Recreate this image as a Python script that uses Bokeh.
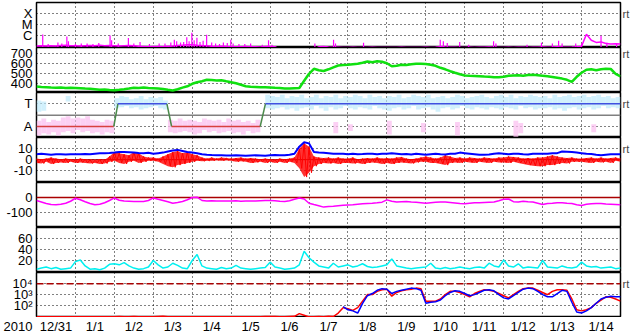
import numpy as np
from bokeh.plotting import figure
from bokeh.layouts import column
from bokeh.models import Range1d, FixedTicker, LinearAxis
from bokeh.core.properties import value
from bokeh.embed import file_html
from bokeh.resources import INLINE

nan = float("nan")

# ---------------- data (3-hourly samples, days since 2009-12-31 00:00) -------------
day_labels = ["12/31", "1/1", "1/2", "1/3", "1/4", "1/5", "1/6", "1/7",
              "1/8", "1/9", "1/10", "1/11", "1/12", "1/13", "1/14"]
year_label = "2010"
t = np.arange(121) * 0.125

# GOES X-ray flux (log10 W/m2)
xray_log = [
    -6.92, -6.90, -6.93, -6.90, -6.92, -6.88, -6.85, -6.90,
    -6.90, -6.92, -6.90, -6.88, -6.90, -6.85, -6.90, -6.88,
    -6.90, -6.92, -6.90, -6.88, -6.90, -6.95, -6.97, -6.99,
    -6.98, -6.97, -6.99, -6.95, -6.92, -6.88, -6.85, -6.82,
    -6.80, -6.85, -6.88, -6.90, -6.95, -6.97, -6.95, -6.98,
    -6.99, -7.00, -7.00, -6.98, -7.00, -7.00, -7.02, -6.98,
    -6.97, -6.99, -7.20, -7.20, -7.20, -7.20, -7.20, -7.20,
    -7.20, -7.20, -7.00, -6.98, -7.02, -7.03, -7.04, -7.05,
    -7.05, -7.04, -7.05, -7.06, -7.05, -7.04, -7.06, -7.05,
    -7.05, -7.06, -7.05, -7.04, -7.05, -7.06, -7.05, -7.05,
    -7.04, -7.05, -7.03, -7.00, -7.02, -7.03, -7.04, -7.05,
    -7.05, -7.04, -7.05, -7.04, -7.03, -7.02, -7.04, -7.05,
    -7.05, -7.04, -7.05, -7.03, -7.04, -7.05, -7.04, -7.03,
    -7.02, -7.03, -7.02, -7.00, -7.02, -7.03, -7.02, -7.00,
    -6.95, -5.85, -6.40, -6.60, -6.55, -6.70, -6.75, -6.72,
    -6.75]
flare_t = [0.16, 0.55, 0.78, 0.82, 1.30, 1.60, 1.89, 1.93, 2.36, 2.66,
           3.15, 3.54, 3.70, 3.86, 3.99, 4.05, 4.12, 4.37, 4.50, 4.80,
           4.99, 5.20, 5.50, 5.96, 7.15, 7.63, 7.68, 8.40, 10.37, 10.45,
           10.55, 10.87, 11.10, 11.74, 11.80, 12.60, 12.97, 13.25, 13.41, 13.50,
           13.85, 14.00, 14.50, 14.65, 14.90,
           0.30, 0.65, 1.00, 1.15, 1.45, 2.10, 2.50, 2.90, 3.30, 3.45,
           3.60, 3.78, 3.92, 4.20, 4.28, 4.60, 4.70, 4.90, 5.05, 5.35,
           5.80, 6.05]
flare_log = [-5.88, -6.60, -6.06, -6.50, -6.70, -6.65, -5.97, -6.40, -6.20, -6.56,
             -6.70, -6.35, -6.60, -6.13, -5.73, -6.40, -6.18, -5.90, -6.60, -6.60,
             -6.35, -6.75, -6.70, -6.40, -6.70, -6.35, -6.70, -6.63, -6.35, -6.50,
             -6.65, -6.56, -6.80, -6.50, -6.70, -6.80, -6.63, -6.70, -6.45, -6.70,
             -6.70, -6.70, -6.00, -6.60, -6.70,
             -6.75, -6.70, -6.75, -6.70, -6.75, -6.70, -6.70, -6.75, -6.70, -6.60,
             -6.50, -6.55, -6.50, -6.55, -6.45, -6.70, -6.75, -6.65, -6.70, -6.75,
             -6.80, -6.80]

# solar wind speed (km/s)
speed = [
    372, 368, 365, 362, 360, 362, 358, 360,
    358, 355, 352, 350, 345, 340, 342, 338,
    336, 340, 345, 352, 360, 358, 362, 358,
    356, 352, 348, 340, 333, 345, 362, 375,
    400, 416, 425, 440, 438, 433, 436, 425,
    416, 405, 390, 376, 370, 368, 366, 365,
    363, 360, 358, 353, 352, 355, 358, 430,
    500, 550, 535, 528, 545, 565, 583, 588,
    590, 595, 600, 610, 623, 615, 625, 620,
    606, 575, 580, 590, 588, 595, 600, 600,
    598, 590, 580, 560, 545, 526, 510, 495,
    483, 480, 478, 476, 472, 470, 466, 465,
    470, 480, 483, 485, 480, 488, 490, 485,
    480, 475, 468, 460, 452, 440, 420, 470,
    510, 540, 545, 535, 545, 550, 548, 500,
    473]

# IMF sector (T = +1, A = -1)
sector_t = [0, 1.985, 2.09, 3.35, 3.47, 5.745, 5.88, 15]
sector_v = [-1, -1, 1, 1, -1, -1, 1, 1]
cyan_hi = [
    1.3, 1.2, nan, nan, nan, nan, 1.7, nan,
    nan, nan, nan, nan, nan, nan, nan, nan,
    1.5, 1.7, 1.6, 1.4, 1.5, 1.7, 1.4, 1.6,
    1.5, 1.6, 1.3, nan, nan, nan, nan, nan,
    nan, nan, nan, nan, nan, nan, nan, nan,
    nan, nan, nan, nan, nan, nan, nan, 1.8,
    1.7, 1.6, 1.8, 1.5, 1.7, 1.6, 1.8, 1.5,
    1.6, 1.8, 1.5, 1.7, 1.6, 1.8, 1.5, 1.7,
    1.6, 1.8, 1.7, 1.5, 1.8, 1.6, 1.7, 1.5,
    1.7, 1.6, 1.8, 1.5, 1.6, 1.8, 1.7, 1.6,
    1.8, 1.5, 1.6, 1.7, 1.5, 1.6, 1.8, 1.7,
    1.5, 1.6, 1.7, 1.8, 1.6, 1.5, 1.7, 1.8,
    1.6, 1.8, 1.5, 1.7, 1.6, 1.8, 1.7, 1.6,
    1.7, 1.5, 1.8, 1.6, 1.7, 1.8, 1.6, 1.7,
    1.8, 1.6, 1.7, 1.8, 1.6, 1.7, 1.5, 1.6]
cyan_lo = [
    0.3, 0.4, nan, nan, nan, nan, 1.2, nan,
    nan, nan, nan, nan, nan, nan, nan, nan,
    0.6, 0.7, 0.8, 0.6, 0.7, 0.5, 0.6, 0.7,
    0.8, 0.6, 0.5, nan, nan, nan, nan, nan,
    nan, nan, nan, nan, nan, nan, nan, nan,
    nan, nan, nan, nan, nan, nan, nan, 0.6,
    0.5, 0.6, 0.7, 0.5, 0.6, 0.4, 0.6, 0.7,
    0.5, 0.8, 0.6, 0.4, 0.7, 0.5, 0.6, 0.8,
    0.6, 0.5, 0.7, 0.6, 0.5, 0.8, 0.6, 0.5,
    0.4, 0.6, 0.7, 0.5, 0.6, 0.8, 0.5, 0.6,
    0.7, 0.5, 0.3, 0.6, 0.7, 0.5, 0.6, 0.8,
    0.6, 0.5, 0.7, 0.6, 0.5, 0.7, 0.6, 0.5,
    0.7, 0.6, 0.5, 0.8, 0.6, 0.7, 0.5, 0.6,
    0.6, 0.7, 0.5, 0.6, 0.4, 0.6, 0.7, 0.5,
    0.6, 0.7, 0.5, 0.6, 0.8, 0.6, 0.7, 0.6]
pink_hi = [
    -0.5, -0.3, -0.6, -0.4, -0.5, -0.2, -0.1, -0.3,
    -0.2, -0.3, -0.1, -0.4, -0.5, -0.6, -0.4, -0.5,
    nan, nan, nan, nan, nan, nan, nan, nan,
    nan, nan, nan, -0.4, -0.5, -0.3, -0.5, -0.4,
    -0.5, -0.6, -0.3, -0.4, -0.5, -0.4, -0.6, -0.3,
    -0.5, -0.4, -0.6, -0.5, -0.7, -0.4, nan, nan,
    nan, nan, nan, nan, nan, nan, nan, nan,
    nan, nan, nan, nan, nan, -0.6, nan, nan,
    -0.8, nan, nan, nan, nan, nan, nan, nan,
    -0.5, nan, nan, nan, nan, nan, nan, -0.7,
    nan, nan, nan, nan, nan, nan, -0.6, nan,
    nan, nan, nan, nan, nan, nan, nan, nan,
    nan, nan, -0.5, -0.7, nan, nan, nan, nan,
    nan, nan, nan, nan, nan, nan, nan, nan,
    nan, nan, -0.8, nan, nan, nan, nan, nan]
pink_lo = [
    -1.8, -1.6, -1.7, -1.5, -1.8, -1.5, -1.4, -1.6,
    -1.3, -1.5, -1.4, -1.6, -1.5, -1.7, -1.5, -1.6,
    nan, nan, nan, nan, nan, nan, nan, nan,
    nan, nan, nan, -1.5, -1.6, -1.5, -1.4, -1.5,
    -1.7, -1.6, -1.3, -1.5, -1.4, -1.6, -1.5, -1.4,
    -1.6, -1.5, -1.7, -1.4, -1.6, -1.5, nan, nan,
    nan, nan, nan, nan, nan, nan, nan, nan,
    nan, nan, nan, nan, nan, -1.6, nan, nan,
    -1.4, nan, nan, nan, nan, nan, nan, nan,
    -1.7, nan, nan, nan, nan, nan, nan, -1.5,
    nan, nan, nan, nan, nan, nan, -1.8, nan,
    nan, nan, nan, nan, nan, nan, nan, nan,
    nan, nan, -1.9, -1.6, nan, nan, nan, nan,
    nan, nan, nan, nan, nan, nan, nan, nan,
    nan, nan, -1.5, nan, nan, nan, nan, nan]

# IMF Bt and Bz range (nT)
bt = [
    5.0, 5.5, 5.0, 4.5, 5.0, 5.0, 4.8, 5.0,
    5.0, 5.0, 5.2, 5.0, 5.5, 5.8, 6.0, 6.2,
    6.5, 7.0, 7.0, 6.8, 6.5, 6.2, 6.0, 6.3,
    5.5, 6.0, 6.5, 7.5, 8.5, 9.0, 8.0, 7.0,
    6.5, 6.0, 5.0, 4.5, 4.2, 4.0, 4.0, 3.8,
    3.8, 4.0, 3.8, 3.5, 3.8, 4.0, 3.8, 3.6,
    4.0, 4.2, 4.0, 4.0, 4.5, 5.5, 12.0, 16.0,
    15.0, 7.0, 6.5, 6.3, 6.0, 5.5, 5.5, 5.5,
    5.0, 5.5, 5.0, 5.2, 5.5, 5.5, 5.0, 5.5,
    5.5, 5.8, 5.5, 5.0, 5.2, 4.8, 5.5, 5.0,
    4.5, 5.0, 5.5, 5.0, 4.8, 5.5, 5.5, 6.5,
    6.0, 5.5, 5.0, 4.5, 4.5, 4.8, 5.5, 5.8,
    5.5, 5.0, 5.5, 5.5, 5.0, 4.8, 5.5, 5.5,
    5.5, 5.5, 5.8, 6.0, 7.5, 7.3, 7.0, 6.5,
    6.0, 5.5, 5.2, 4.5, 4.0, 4.5, 5.0, 5.0,
    5.0]
bz_hi = [
    1.0, 0.5, 1.0, 2.0, 1.0, 0.5, 1.0, 0.5,
    0.0, 1.0, 0.5, 0.0, -0.5, 0.5, 0.0, 3.0,
    7.0, 6.0, 5.0, 4.0, 7.0, 6.0, 3.0, 2.0,
    2.0, 1.0, 3.0, 5.0, 7.0, 8.0, 6.0, 7.0,
    5.0, 4.0, 2.0, 1.0, 2.0, 1.0, 2.0, 1.5,
    1.0, 1.5, 2.0, 1.0, 1.5, 1.0, 0.5, 1.0,
    0.5, 0.0, 1.0, 0.5, 1.0, 2.0, 10.0, 15.0,
    12.0, 3.0, 2.0, 1.5, 2.0, 1.0, 2.0, 1.0,
    1.0, 2.0, 0.5, 1.0, 1.5, 1.0, 2.0, 1.0,
    1.5, 1.0, 2.0, 2.5, 1.0, 0.5, 1.0, 2.0,
    3.0, 2.0, 1.0, 2.0, 4.0, 3.0, 1.5, 2.0,
    1.0, 2.0, 1.5, 1.0, 2.0, 1.5, 1.0, 2.0,
    2.0, 3.0, 2.5, 2.0, 1.0, 1.5, 1.0, 2.0,
    2.0, 3.0, 4.0, 3.0, 2.0, 1.5, 2.0, 1.0,
    1.0, 1.5, 2.0, 1.0, 2.0, 1.0, 1.5, 2.0,
    1.0]
bz_lo = [
    -3.0, -3.5, -2.0, -4.0, -3.0, -2.5, -3.0, -2.0,
    -3.0, -2.5, -3.0, -3.5, -3.0, -4.0, -3.5, -2.0,
    -1.0, -3.0, -4.0, -2.0, -1.0, -3.0, -2.0, -1.0,
    -1.0, -2.0, -4.0, -6.0, -7.0, -5.0, -4.0, -3.0,
    -2.0, -1.0, -1.5, -1.0, -1.0, -0.5, -1.0, -0.5,
    -1.0, -2.0, -1.5, -2.0, -3.0, -2.5, -2.0, -3.0,
    -2.0, -3.0, -2.0, -3.0, -2.0, -3.0, -8.0, -16.0,
    -12.0, -6.0, -4.0, -3.0, -3.5, -3.0, -4.0, -3.0,
    -3.0, -3.5, -3.0, -4.0, -3.0, -2.5, -3.0, -4.0,
    -3.0, -4.0, -3.0, -2.5, -3.0, -3.5, -2.5, -2.0,
    -2.0, -3.0, -3.0, -4.0, -5.0, -3.0, -2.5, -3.0,
    -2.0, -2.5, -3.0, -2.0, -2.5, -3.0, -2.0, -2.5,
    -2.5, -3.0, -2.0, -3.0, -4.0, -5.0, -5.5, -6.0,
    -6.0, -5.0, -5.0, -4.0, -3.0, -3.5, -2.0, -2.0,
    -2.0, -2.5, -3.0, -2.0, -2.5, -2.0, -3.0, -1.0,
    -2.0]

# Dst (nT)
dst = [
    -20, -30, -40, -47, -49, -45, -38, -25,
    -5, -15, -28, -40, -48, -45, -35, -20,
    -3, -18, -24, -25, -26, -27, -27, -20,
    -3, -12, -20, -28, -38, -33, -27, -15,
    0, 2, -20, -24, -22, -24, -23, -24,
    -24, -22, -25, -24, -23, -24, -22, -20,
    -20, -22, -25, -27, -22, -12, -3, -10,
    -38, -47, -55, -64, -60, -58, -55, -52,
    -50, -48, -45, -42, -40, -38, -35, -31,
    -16, -25, -30, -28, -27, -30, -32, -35,
    -38, -35, -32, -30, -30, -33, -36, -40,
    -42, -38, -35, -35, -33, -31, -30, -22,
    -12, -10, -28, -30, -25, -28, -30, -38,
    -47, -40, -38, -35, -35, -38, -40, -48,
    -53, -45, -42, -40, -40, -43, -45, -47,
    -49]

# proton density (p/cc)
dens = [
    4, 6, 8, 5, 7, 4, 5, 6,
    18, 21, 10, 4, 5, 3, 6, 13,
    14, 12, 16, 10, 6, 4, 5, 8,
    20, 12, 6, 8, 15, 11, 6, 5,
    20, 31, 10, 6, 5, 4, 7, 5,
    6, 11, 6, 5, 4, 5, 6, 7,
    17, 8, 6, 4, 5, 6, 12, 37,
    25, 17, 10, 8, 6, 15, 8, 10,
    12, 8, 10, 14, 9, 7, 8, 10,
    12, 23, 10, 8, 6, 5, 6, 7,
    8, 15, 6, 5, 7, 5, 6, 8,
    6, 5, 7, 8, 6, 15, 10, 8,
    21, 10, 8, 14, 6, 8, 7, 6,
    20, 8, 7, 6, 10, 7, 6, 8,
    17, 10, 8, 9, 6, 7, 8, 5,
    6]

# >2 MeV electron flux (log10), two satellites
elec_red = [
    0.95, 0.96, 0.95, 0.97, 0.96, 0.95, 0.96, 0.97,
    0.96, 0.95, 0.96, 0.95, 0.97, 0.96, 0.95, 0.96,
    0.97, 0.98, 0.97, 0.96, 0.98, 0.97, 0.96, 0.95,
    0.96, 0.98, 1.00, 0.97, 0.96, 0.95, 0.96, 0.95,
    0.95, 0.96, 0.95, 0.96, 0.95, 0.96, 0.95, 0.95,
    0.96, 0.95, 0.96, 0.95, 0.96, 0.95, 0.97, 0.98,
    0.99, 0.98, 0.97, 0.96, 0.98, 1.00, 1.25, 1.10,
    0.95, 0.96, 0.98, 0.97, 1.00, 0.98, 1.30, 1.80,
    1.70, 1.55, 1.80, 2.40, 3.00, 3.00, 3.30, 3.45,
    3.50, 2.85, 3.20, 3.35, 3.45, 3.50, 3.60, 3.55,
    2.40, 2.40, 2.40, 2.60, 3.00, 3.30, 3.30, 3.20,
    3.00, 2.80, 3.10, 3.30, 3.45, 3.40, 3.30, 3.10,
    2.90, 2.70, 3.00, 3.30, 3.55, 3.60, 3.60, 3.40,
    3.20, 3.00, 3.30, 3.45, 3.45, 3.40, 2.60, 1.60,
    1.50, 1.60, 1.80, 2.20, 2.50, 2.80, 2.75, 2.60,
    2.40]
elec_blue = [
    nan, nan, nan, nan, nan, nan, nan, nan,
    nan, nan, nan, nan, nan, nan, nan, nan,
    nan, nan, nan, nan, nan, nan, nan, nan,
    nan, nan, nan, nan, nan, nan, nan, nan,
    nan, nan, nan, nan, nan, nan, nan, nan,
    nan, nan, nan, nan, nan, nan, nan, nan,
    nan, nan, nan, nan, nan, nan, nan, nan,
    nan, nan, nan, nan, nan, nan, nan, 1.90,
    1.60, 1.50, 1.30, 2.20, 2.90, 3.10, 3.40, 3.55,
    3.50, 3.10, 3.30, 3.40, 3.50, 3.60, 3.55, 3.40,
    2.20, 2.30, 2.35, 2.50, 2.90, 3.20, 3.35, 3.30,
    3.10, 2.90, 3.00, 3.20, 3.40, 3.45, 3.35, 3.00,
    2.70, 2.60, 2.90, 3.20, 3.50, 3.60, 3.55, 3.30,
    3.00, 2.80, 2.80, 3.10, 3.40, 3.30, 2.30, 1.40,
    1.30, 1.50, 1.80, 2.20, 2.60, 2.75, 2.85, 2.80,
    2.80]

# axis ticks / labels
xray_ticks = {-4: "X", -5: "M", -6: "C"}
speed_ticks = {700: "700", 600: "600", 500: "500", 400: "400"}
sector_ticks = {1: "T", -1: "A"}
b_ticks = {10: "10", 0: "0", -10: "-10"}
dst_ticks = {0: "0", -100: "-100"}
dens_ticks = {60: "60", 40: "40", 20: "20"}
elec_ticks = {4: "10\u2074", 3: "10\u00b3", 2: "10\u00b2"}

# ---------------- styling helpers -------------
FONT = "Liberation Sans"
LEFT = 33
RIGHT = 16
FW = 584
FH = 45
X0, X1 = 0, 15


def base_fig(yr, fh, top=0):
    p = figure(frame_width=FW, frame_height=fh,
               x_range=Range1d(X0, X1), y_range=Range1d(*yr),
               output_backend="svg", toolbar_location=None, tools="",
               min_border_left=LEFT, min_border_right=RIGHT,
               min_border_top=top, min_border_bottom=0,
               x_axis_location=None)
    p.background_fill_color = "white"
    p.border_fill_color = "white"
    return p


def style_left_axis(ax, ticks):
    ax.ticker = FixedTicker(ticks=list(ticks.keys()))
    ax.major_label_overrides = dict(ticks)
    ax.axis_line_color = None
    ax.major_tick_line_color = None
    ax.minor_tick_line_color = None
    ax.major_tick_out = 0
    ax.major_tick_in = 0
    ax.minor_tick_out = 0
    ax.minor_tick_in = 0
    ax.major_label_standoff = 4
    ax.major_label_text_font = FONT
    ax.major_label_text_font_size = "13px"
    ax.major_label_text_color = "black"


def panel(yr, ticks, top=0, rt=None):
    p = base_fig(yr, FH, top)
    p.outline_line_color = "black"
    p.outline_line_width = 1.5
    style_left_axis(p.yaxis[0], ticks)
    p.ygrid.grid_line_color = "black"
    p.ygrid.grid_line_dash = "1 3"
    p.ygrid.grid_line_width = 1
    p.xgrid.ticker = FixedTicker(ticks=list(range(1, 15)))
    p.xgrid.grid_line_color = "black"
    p.xgrid.grid_line_dash = "1 3"
    p.xgrid.grid_line_width = 1
    if rt is not None:
        r = LinearAxis(ticker=FixedTicker(ticks=[rt]),
                       major_label_overrides={rt: "rt"},
                       axis_line_color=None, major_tick_line_color=None,
                       minor_tick_line_color=None, major_tick_out=0,
                       major_tick_in=0, minor_tick_out=0, minor_tick_in=0,
                       major_label_standoff=2,
                       major_label_text_font=FONT,
                       major_label_text_font_size="11px")
        p.add_layout(r, "right")
    return p


figs = []

# 1. X-ray
p1 = panel((-7.06, -2.97), xray_ticks, top=2, rt=-4)
p1.segment(x0=flare_t, y0=-7.1, x1=flare_t, y1=flare_log,
           line_color="#ff00ff", line_width=1.2)
p1.line(t, xray_log, line_color="#ff00ff", line_width=1.5)
figs.append(p1)

# 2. speed
p2 = panel((313, 763), speed_ticks, rt=700)
p2.line(t, speed, line_color="#10e010", line_width=2.5)
figs.append(p2)

# 3. sector
p3 = panel((-1.97, 2.0), sector_ticks, rt=1)
p3.quad(left=t[:-1], right=t[1:], bottom=cyan_lo, top=cyan_hi,
        fill_color="#bde9fb", fill_alpha=0.7, line_color=None)
p3.quad(left=t[:-1], right=t[1:], bottom=pink_lo, top=pink_hi,
        fill_color="#fbc0f0", fill_alpha=0.75, line_color=None)
p3.line([X0, X1], [0, 0], line_color="#808080", line_width=1.5)
seg_cols = []
for i in range(len(sector_t) - 1):
    if sector_v[i] != sector_v[i + 1]:
        seg_cols.append("#4a8a4a")
    elif sector_v[i] > 0:
        seg_cols.append("#4050e0")
    else:
        seg_cols.append("#d84040")
p3.segment(x0=sector_t[:-1], y0=sector_v[:-1], x1=sector_t[1:], y1=sector_v[1:],
           line_color=seg_cols, line_width=1.5)
figs.append(p3)

# 4. IMF: Bz range as a filled band plus a zig-zag between its high and low values
p4 = panel((-21.0, 20.4), b_ticks, rt=10)
p4.line([X0, X1], [0, 0], line_color="#aa0000", line_width=1)
zz_x = np.empty(2 * len(t) - 1)
zz_y = np.empty(2 * len(t) - 1)
zz_x[0::2] = t
zz_x[1::2] = t[:-1] + 0.0625
zz_y[0::2] = bz_hi
zz_y[1::2] = bz_lo[:-1]
p4.varea(x=t, y1=bz_lo, y2=bz_hi, fill_color="#ff0000", fill_alpha=0.8)
p4.line(zz_x, zz_y, line_color="#ff0000", line_width=1)
p4.line(t, bt, line_color="#0000ff", line_width=2)
figs.append(p4)

# 5. Dst
p5 = panel((-200, 100), dst_ticks)
p5.line([X0, X1], [0, 0], line_color="#aa0000", line_width=1.5)
p5.line(t, dst, line_color="#ff00ff", line_width=1.5)
figs.append(p5)

# 6. density
p6 = panel((-2.1, 80.8), dens_ticks)
p6.line(t, dens, line_color="#00f0f0", line_width=1.5)
figs.append(p6)

# 7. electrons
p7 = panel((0.89, 5.04), elec_ticks, rt=4)
p7.line([X0, X1], [4, 4], line_color="#aa0000", line_width=1.5, line_dash="7 3")
p7.line(t, elec_red, line_color="#ff0000", line_width=1.5)
p7.line(t, elec_blue, line_color="#0000ff", line_width=1.5)
figs.append(p7)

# 8. date strip: same frame geometry, year as the left-axis label
strip = base_fig((0, 1), 17)
strip.outline_line_color = None
strip.xgrid.visible = False
strip.ygrid.visible = False
style_left_axis(strip.yaxis[0], {0.45: year_label})
label_pos = [X0 + i + 0.5 for i in range(len(day_labels))]
strip.text(x=label_pos, y=np.full(len(label_pos), 0.45), text=day_labels,
           text_align="center", text_baseline="middle",
           text_font=value(FONT), text_font_size="13px", text_color="black")
figs.append(strip)

layout = column(*figs, spacing=0)
open("out.html", "w").write(file_html(layout, INLINE))
